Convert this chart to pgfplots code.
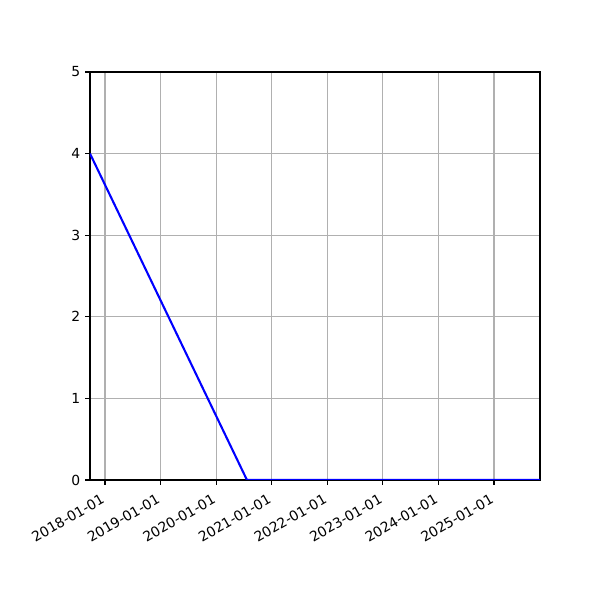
\documentclass[border=0pt]{standalone}
\usepackage{pgfplots}
\pgfplotsset{compat=1.18}
\usepackage{fontspec}
\setmainfont{DejaVu Sans}
\definecolor{gridgray}{HTML}{B0B0B0}
\begin{document}
\begin{tikzpicture}
% days counted from 2018-01-01
\begin{axis}[
    name=ax,
    scale only axis,
    width=324pt, height=293.76pt,
    xmin=-98.6, xmax=2859,
    ymin=0, ymax=5,
    xtick={0,365,730,1096,1461,1826,2191,2557},
    xticklabels={2018-01-01,2019-01-01,2020-01-01,2021-01-01,2022-01-01,2023-01-01,2024-01-01,2025-01-01},
    ytick={0,1,2,3,4,5},
    xticklabel style={xshift=-3pt, yshift=-4.5pt, rotate=30, anchor=north east, inner sep=1pt, font=\fontsize{10}{12}\selectfont},
    yticklabel style={font=\fontsize{10}{12}\selectfont},
    /pgf/number format/assume math mode=true,
    tick pos=left,
    tick align=outside,
    major tick length=3.5pt,
    grid=major,
    major grid style={gridgray, line width=0.8pt},
    axis line style={line width=0.8pt},
    every tick/.style={black, line width=0.8pt},
]
\addplot[blue, line width=1.5pt] coordinates {
    (-98.6,4) (933,0) (2859,0)
};
\end{axis}
\path (ax.south west) ++(-64.8pt,-86.4pt) coordinate (bl);
\path (ax.north east) ++(43.2pt,51.84pt) coordinate (tr);
\useasboundingbox (bl) rectangle (tr);
\end{tikzpicture}
\end{document}
